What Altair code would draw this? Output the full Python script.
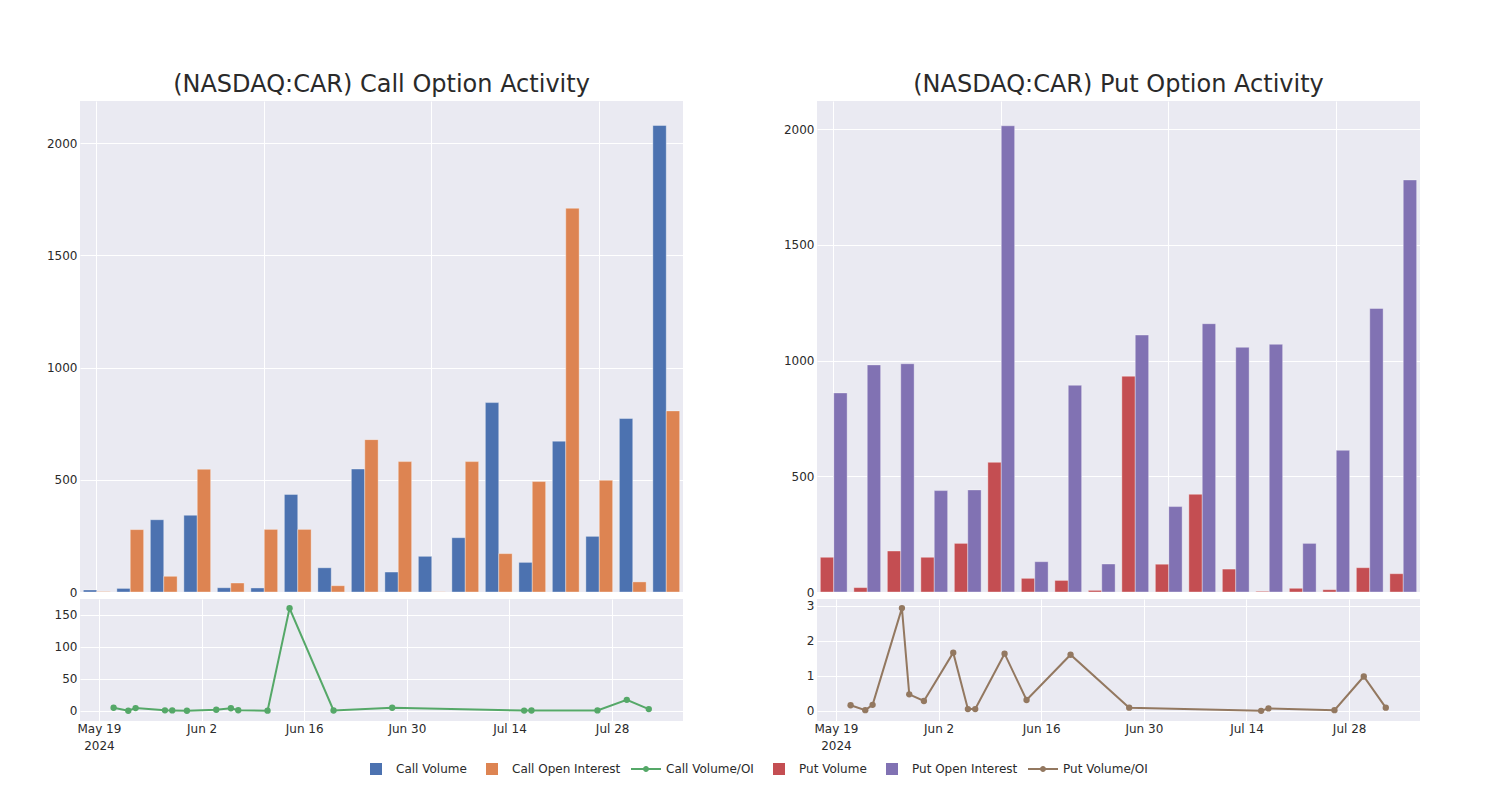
import altair as alt
import pandas as pd

# ---------------- data ----------------
dates = ["2024-05-21", "2024-05-23", "2024-05-24", "2024-05-28", "2024-05-29", "2024-05-31",
         "2024-06-04", "2024-06-06", "2024-06-07", "2024-06-11", "2024-06-14", "2024-06-20",
         "2024-06-28", "2024-07-16", "2024-07-17", "2024-07-26", "2024-07-30", "2024-08-02"]
call_volume = [9, 16, 322, 342, 19, 18, 435, 108, 548, 89, 159, 242, 844, 132, 672, 248, 773, 2079]
call_oi = [2, 278, 70, 547, 40, 279, 279, 28, 679, 581, 1, 581, 171, 492, 1710, 498, 45, 807]
call_ratio = [4.7, 0.06, 4.2, 0.6, 0.5, 0.06, 1.56, 3.9, 0.8, 0.15, 160, 0.4, 4.7, 0.27, 0.39, 0.5, 17, 2.6]
put_volume = [150, 19, 177, 150, 210, 560, 59, 50, 7, 932, 120, 422, 99, 3, 16, 10, 105, 79]
put_oi = [860, 981, 986, 438, 441, 2014, 131, 893, 121, 1110, 369, 1159, 1057, 1070, 210, 612, 1225, 1780]
put_ratio = [0.16, 0.02, 0.17, 2.93, 0.47, 0.28, 1.66, 0.05, 0.05, 1.63, 0.31, 1.6, 0.09, 0.0, 0.07, 0.02, 0.98, 0.09]

series_names = ["Call Volume", "Call Open Interest", "Call Volume/OI",
                "Put Volume", "Put Open Interest", "Put Volume/OI"]
series_colors = ["#4C72B0", "#DD8452", "#55A868", "#C44E52", "#8172B3", "#937860"]

square = "M-0.4,-0.4H0.4V0.4H-0.4Z"
linedot = ("M-1,-0.07H1V0.07H-1Z "
           "M0.2,0A0.2,0.2 0 1,1 -0.2,0A0.2,0.2 0 1,1 0.2,0Z")
series_shapes = [square, square, linedot, square, square, linedot]

bar_grid_idx = [0, 5, 10, 15]
tick_days = [19, 2, 16, 30, 14, 28]
tick_months = [5, 6, 6, 6, 7, 7]

FONT = "DejaVu Sans"
TXT = "#2a2a2a"
BG = "#EAEAF2"
VIEW = alt.ViewBackground(fill=BG, stroke=None)

color_scale = alt.Scale(domain=series_names, range=series_colors)

LEG = dict(title=None, orient="none", direction="horizontal",
           legendX=281, legendY=653, symbolSize=900,
           symbolOpacity=1, symbolStrokeWidth=0,
           labelFontSize=12, labelFont=FONT, labelColor=TXT,
           labelOffset=5, columnPadding=10, columns=6, labelLimit=300)


def color_enc():
    return alt.Color("series:N", scale=color_scale, legend=alt.Legend(**LEG))


def bar_frame(vol, oi, names):
    rows = []
    for i in range(len(vol)):
        rows.append({"i": i, "k": "a", "series": names[0], "value": vol[i]})
        rows.append({"i": i, "k": "b", "series": names[1], "value": oi[i]})
    return pd.DataFrame(rows)


def bar_chart(df, ymax):
    return alt.Chart(df).mark_bar(
        stroke="white", strokeWidth=0.6, strokeOpacity=0.6
    ).encode(
        x=alt.X("i:O", scale=alt.Scale(paddingInner=0.2, paddingOuter=0.1),
                axis=alt.Axis(values=bar_grid_idx, labels=False, ticks=False, domain=False,
                              title=None, grid=True, gridColor="white", bandPosition=0.5,
                              minExtent=0, maxExtent=0)),
        xOffset=alt.XOffset("k:N", scale=alt.Scale(domain=["a", "b"], paddingInner=0)),
        y=alt.Y("value:Q", scale=alt.Scale(domain=[0, ymax], nice=False, zero=True),
                axis=alt.Axis(values=[0, 500, 1000, 1500, 2000], format="d", title=None,
                              domain=False, ticks=False, labelPadding=3, gridColor="white",
                              minExtent=34, maxExtent=34)),
        color=color_enc(),
    ).properties(width=603, height=491)


def line_chart(ratio, name, ydom, yvals):
    df = pd.DataFrame({"date": dates, "ratio": ratio, "series": [name] * len(dates)})
    tick_vals = [alt.DateTime(year=2024, month=m, date=d, utc=True)
                 for m, d in zip(tick_months, tick_days)]
    return alt.Chart(df).mark_line(
        strokeWidth=2,
        point=alt.OverlayMarkDef(size=40, filled=True, opacity=1)
    ).encode(
        x=alt.X("date:T",
                scale=alt.Scale(type="utc", domain=[
                    alt.DateTime(year=2024, month=5, date=16, hours=10, utc=True),
                    alt.DateTime(year=2024, month=8, date=6, hours=16, utc=True)]),
                axis=alt.Axis(values=tick_vals, title=None, domain=False, ticks=False,
                              labelPadding=2, gridColor="white", labelLineHeight=17,
                              labelExpr="datum.index == 0 ? [utcFormat(datum.value, '%b %-d'), '2024'] : utcFormat(datum.value, '%b %-d')")),
        y=alt.Y("ratio:Q", scale=alt.Scale(domain=ydom, nice=False, zero=False),
                axis=alt.Axis(values=yvals, title=None, domain=False, ticks=False,
                              labelPadding=3, gridColor="white",
                              minExtent=34, maxExtent=34)),
        color=color_enc(),
    ).properties(width=603, height=122, view=VIEW)


legend_df = pd.DataFrame({"series": series_names})
legend_layer = alt.Chart(legend_df).mark_point(filled=True, clip=True).encode(
    x=alt.value(-300),
    y=alt.value(-300),
    color=color_enc(),
    shape=alt.Shape("series:N", scale=alt.Scale(domain=series_names, range=series_shapes),
                    legend=alt.Legend(**LEG)),
)


def titled(layered, text):
    return layered.properties(
        title=alt.TitleParams(text, fontSize=24, font=FONT, color=TXT,
                              fontWeight="normal", baseline="alphabetic",
                              offset=-15, anchor="middle"),
        view=VIEW)


call_top = titled(alt.layer(bar_chart(bar_frame(call_volume, call_oi, series_names[0:2]), 2188),
                            legend_layer), "(NASDAQ:CAR) Call Option Activity")
put_top = titled(alt.layer(bar_chart(bar_frame(put_volume, put_oi, series_names[3:5]), 2121)),
                 "(NASDAQ:CAR) Put Option Activity")

call_line = line_chart(call_ratio, series_names[2], [-16, 174.5], [0, 50, 100, 150])
put_line = line_chart(put_ratio, series_names[5], [-0.29, 3.19], [0, 1, 2, 3])

left = alt.vconcat(call_top, call_line, spacing=1)
right = alt.vconcat(put_top, put_line, spacing=1)

chart = alt.hconcat(left, right, spacing=100).properties(
    padding={"left": 38, "top": 65, "right": 5, "bottom": 50},
    background="white",
).configure_view(fill=BG, stroke=None).configure_axis(
    labelFont=FONT, labelFontSize=12, labelColor=TXT, gridWidth=1
).configure_legend(labelFont=FONT)

chart.save("out.html", embed_options={"renderer": "svg", "actions": False})
